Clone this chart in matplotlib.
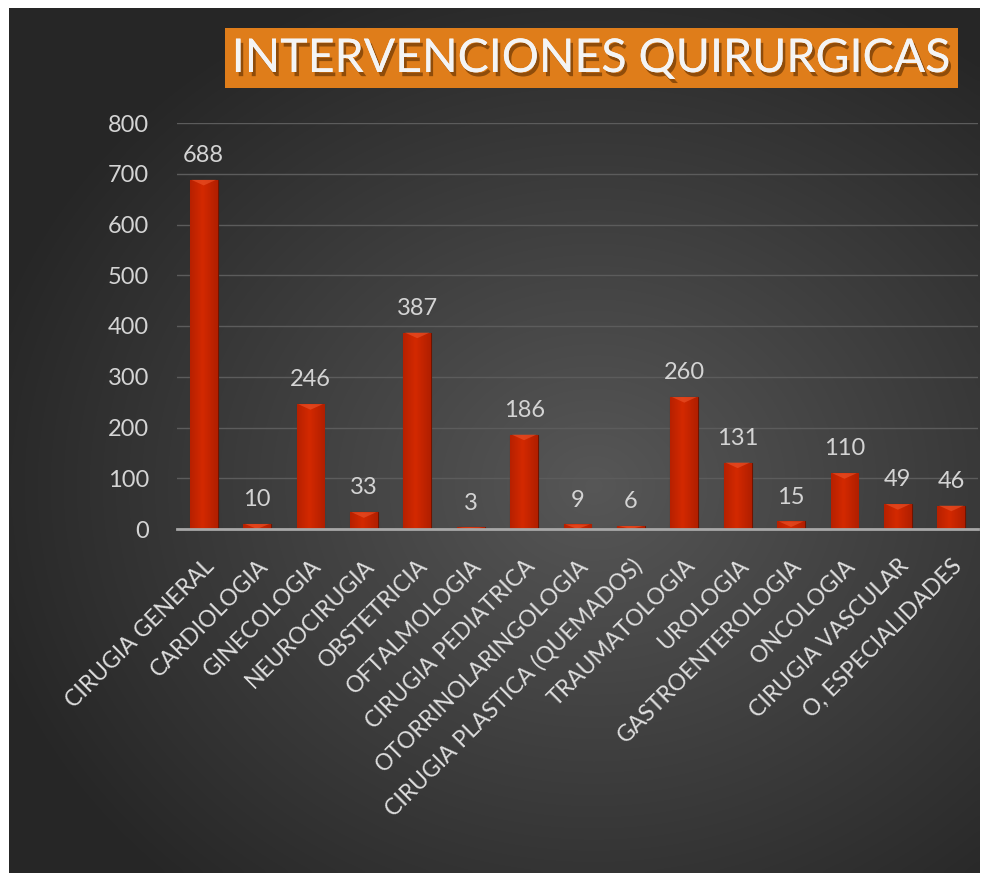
import matplotlib
matplotlib.use("Agg")
import matplotlib.pyplot as plt
import matplotlib.patheffects as pe
from matplotlib.patches import Rectangle, Polygon
import numpy as np

# data
categories = ["CIRUGIA GENERAL", "CARDIOLOGIA", "GINECOLOGIA", "NEUROCIRUGIA",
              "OBSTETRICIA", "OFTALMOLOGIA", "CIRUGIA PEDIATRICA",
              "OTORRINOLARINGOLOGIA", "CIRUGIA PLASTICA (QUEMADOS)",
              "TRAUMATOLOGIA", "UROLOGIA", "GASTROENTEROLOGIA", "ONCOLOGIA",
              "CIRUGIA VASCULAR", "O, ESPECIALIDADES"]
values = [688, 10, 246, 33, 387, 3, 186, 9, 6, 260, 131, 15, 110, 49, 46]
yticks = [0, 100, 200, 300, 400, 500, 600, 700, 800]
title = "INTERVENCIONES QUIRURGICAS"

plt.rcParams['font.family'] = ['Lato', 'DejaVu Sans']

W, H = 982, 873
fig = plt.figure(figsize=(W / 100, H / 100), dpi=100)
fig.patch.set_facecolor("white")

# dark radial background
bg = fig.add_axes([9 / W, 0, (980 - 9) / W, (873 - 8) / H])
bg.set_axis_off()
yy, xx = np.mgrid[0:200, 0:200]
cx, cy = 120, 110
r = np.sqrt(((xx - cx) / 130.0) ** 2 + ((yy - cy) / 125.0) ** 2)
r = np.clip(r, 0, 1)
shade = 0.34 - 0.19 * r
img = np.dstack([shade, shade, shade])
bg.imshow(img, extent=[0, 1, 0, 1], aspect="auto", interpolation="bicubic")
bg.set_xlim(0, 1)
bg.set_ylim(0, 1)

# title box
fig.patches.append(Rectangle((225 / W, 1 - 88 / H), 733 / W, 60 / H,
                             transform=fig.transFigure, facecolor="#df7d1a",
                             edgecolor="none", zorder=1))
fig.text(591 / W, 1 - 59 / H, title, fontsize=33.5, color="#f4f4f4",
         ha="center", va="center", zorder=2,
         path_effects=[pe.withSimplePatchShadow(offset=(2, -3), shadow_rgbFace="#5a2c00", alpha=0.6),
                       pe.Normal()])

ax = fig.add_axes([177 / W, 1 - 529 / H, 801 / W, 406 / H])
ax.set_facecolor("none")
x = np.arange(len(categories))
bw = 0.52
bars = ax.bar(x, values, width=bw, color="#b52000", edgecolor="#6e1400",
              linewidth=0.8, zorder=3)

# horizontal shading inside each bar
grad = np.linspace(0, 1, 64)
prof = 1 - 0.45 * np.abs(grad - 0.45) * 2
cols = np.zeros((1, 64, 3))
cols[0, :, 0] = 0.55 + 0.28 * prof
cols[0, :, 1] = 0.08 + 0.08 * prof
cols[0, :, 2] = 0.0
for b, v in zip(bars, values):
    im = ax.imshow(cols, extent=[b.get_x(), b.get_x() + bw, 0, v], aspect="auto",
                   zorder=3.5, interpolation="bicubic")
    im.set_clip_path(b)
    # light bevel at the top
    hgt = min(v, 11)
    tri = Polygon([(b.get_x() + 0.03, v), (b.get_x() + bw - 0.03, v),
                   (b.get_x() + bw / 2, v - hgt)], closed=True,
                  facecolor="#f05a30", edgecolor="none", alpha=0.55, zorder=4)
    ax.add_patch(tri)
    ax.text(b.get_x() + bw / 2, v + 48, str(v), ha="center", va="center",
            fontsize=17, color="#d4d4d4", zorder=5)

ax.set_xlim(-0.5, len(categories) - 0.5)
ax.set_ylim(0, 800)
ax.set_yticks(yticks)
ax.set_yticklabels([str(t) for t in yticks], fontsize=17, color="#d4d4d4")
ax.yaxis.grid(True, color="#5c5c5c", linewidth=1.0, zorder=0)
ax.set_axisbelow(True)
for s in ["top", "right", "left"]:
    ax.spines[s].set_visible(False)
ax.spines["bottom"].set_color("#a8a8a8")
ax.spines["bottom"].set_linewidth(2)
ax.spines["bottom"].set_zorder(6)
ax.tick_params(axis="y", length=0, pad=20)
ax.tick_params(axis="x", length=0, pad=19)
ax.set_xticks(x)
ax.set_xticklabels(categories, rotation=45, ha="right", va="top",
                   rotation_mode="anchor", fontsize=16.5, color="#dedede")

fig.savefig("out.png", dpi=100, facecolor=fig.get_facecolor())
